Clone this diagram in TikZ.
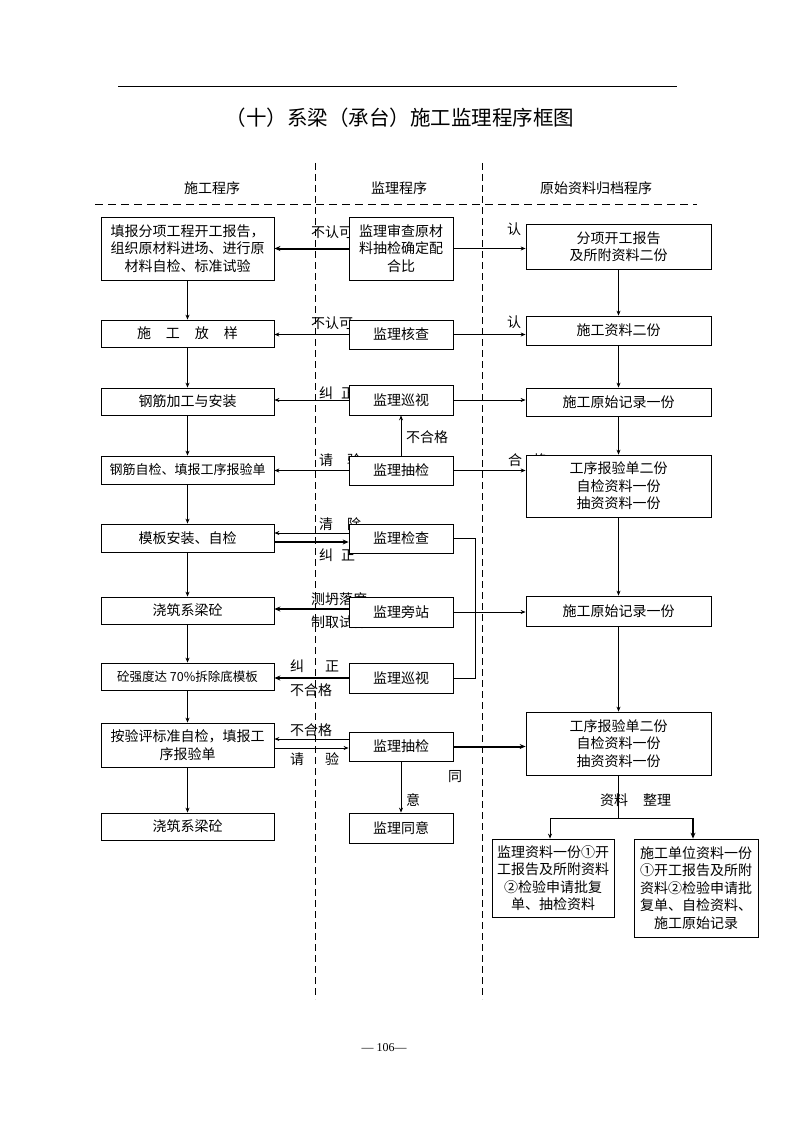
\documentclass[tikz,border=0pt]{standalone}
\usepackage{fontspec}
\setmainfont{Noto Sans CJK SC}
\newfontfamily\serifnum{Liberation Serif}
\usetikzlibrary{arrows.meta}
\begin{document}
\begin{tikzpicture}[x=1pt,y=-1pt,
  box/.style={draw, line width=0.8pt, fill=white, inner sep=0pt, align=center, font=\fontsize{14}{17.5}\selectfont},
  lbox/.style={box, minimum width=173pt},
  mbox/.style={box, minimum width=104pt},
  rbox/.style={box, minimum width=185pt},
  lbl/.style={inner sep=0pt, anchor=west, font=\fontsize{14}{17}\selectfont},
  hdr/.style={inner sep=0pt, font=\fontsize{14}{17}\selectfont},
  arr/.style={-{Stealth[length=5pt,width=4pt]}, line width=0.8pt},
  tarr/.style={-{Stealth[length=6pt,width=5pt]}, line width=2pt},
  plain/.style={line width=0.8pt},
  vdash/.style={dash pattern=on 7pt off 4pt, line width=0.8pt},
  hdash/.style={dash pattern=on 8pt off 5pt, line width=0.8pt},
]
\fill[white] (0,0) rectangle (794,1123);
\useasboundingbox (0,0) rectangle (794,1123);

% title and rules
\draw[line width=0.9pt] (118,86) -- (677,86);
\node[inner sep=0pt, font=\fontsize{20.5}{22}\selectfont] (title) at (400,118) {（十）系梁（承台）施工监理程序框图};
\draw[vdash] (315,163) -- (315,999);
\draw[vdash] (482,163) -- (482,999);
\draw[hdash] (95,204) -- (697,204);
\node[hdr] (h1) at (212,188) {施工程序};
\node[hdr] (h2) at (399,188) {监理程序};
\node[hdr] (h3) at (596,188) {原始资料归档程序};

% labels (drawn before boxes so boxes cover them as in the original)
\node[lbl] (l1a) at (311,232) {不认可};
\node[lbl] (l1b) at (507,229) {认};
\node[lbl] (l2a) at (311,323) {不认可};
\node[lbl] (l2b) at (507,322) {认};
\node[lbl] (l3a) at (319,393) {纠\hspace{8pt}正};
\node[lbl] (l4a) at (319,460) {请\hspace{14pt}验};
\node[lbl] (l4b) at (508,460) {合\hspace{11pt}格};
\node[lbl] (l4c) at (406,437) {不合格};
\node[lbl] (l5a) at (319,524) {清\hspace{14pt}除};
\node[lbl] (l5b) at (319,555) {纠\hspace{8pt}正};
\node[lbl] (l6a) at (311,599) {测坍落度};
\node[lbl] (l6b) at (311,622) {制取试件};
\node[lbl] (l7a) at (290,666) {纠\hspace{21pt}正};
\node[lbl] (l7b) at (290,690) {不合格};
\node[lbl] (l8a) at (290,730.5) {不合格};
\node[lbl] (l8b) at (290,759) {请\hspace{21pt}验};
\node[lbl] (l8c) at (448,777) {同};
\node[lbl] (l8d) at (406,800) {意};
\node[lbl] (l9) at (600,800) {资料\hspace{15pt}整理};

% left column
\node[lbox, minimum height=63pt] (L1) at (187.5,248.5) {填报分项工程开工报告，\\组织原材料进场、进行原\\材料自检、标准试验};
\node[lbox, minimum height=27pt] (L2) at (187.5,333.5) {施\hspace{15pt}工\hspace{15pt}放\hspace{15pt}样};
\node[lbox, minimum height=27pt] (L3) at (187.5,401.5) {钢筋加工与安装};
\node[lbox, minimum height=28pt, font=\fontsize{13}{16}\selectfont] (L4) at (187.5,470) {钢筋自检、填报工序报验单};
\node[lbox, minimum height=28pt] (L5) at (187.5,538) {模板安装、自检};
\node[lbox, minimum height=27pt] (L6) at (187.5,610.5) {浇筑系梁砼};
\node[lbox, minimum height=27pt, font=\fontsize{12.5}{15}\selectfont] (L7) at (187.5,676.5) {砼强度达 70\%拆除底模板};
\node[lbox, minimum height=44pt] (L8) at (187.5,745) {按验评标准自检，填报工\\序报验单};
\node[lbox, minimum height=27pt] (L9) at (187.5,826.5) {浇筑系梁砼};

% middle column
\node[mbox, minimum height=63pt] (M1) at (401,248.5) {监理审查原材\\料抽检确定配\\合比};
\node[mbox, minimum height=29pt] (M2) at (401,334.5) {监理核查};
\node[mbox, minimum height=30pt] (M3) at (401,400) {监理巡视};
\node[mbox, minimum height=29pt] (M4) at (401,470.5) {监理抽检};
\node[mbox, minimum height=29pt] (M5) at (401,538.5) {监理检查};
\node[mbox, minimum height=30pt] (M6) at (401,612) {监理旁站};
\node[mbox, minimum height=30pt] (M7) at (401,678) {监理巡视};
\node[mbox, minimum height=29pt] (M8) at (401,746.5) {监理抽检};
\node[mbox, minimum height=30pt] (M9) at (401,828) {监理同意};

% right column
\node[rbox, minimum height=45pt] (R1) at (618.5,246.5) {分项开工报告\\及所附资料二份};
\node[rbox, minimum height=29pt] (R2) at (618.5,330.5) {施工资料二份};
\node[rbox, minimum height=28pt] (R3) at (618.5,402) {施工原始记录一份};
\node[rbox, minimum height=62pt] (R4) at (618.5,486) {工序报验单二份\\自检资料一份\\抽资资料一份};
\node[rbox, minimum height=30pt] (R5) at (618.5,611) {施工原始记录一份};
\node[rbox, minimum height=63pt] (R6) at (618.5,743.5) {工序报验单二份\\自检资料一份\\抽资资料一份};

% bottom boxes
\node[box, minimum width=122pt, minimum height=78pt] (B1) at (553,878) {监理资料一份①开\\工报告及所附资料\\②检验申请批复\\单、抽检资料};
\node[box, minimum width=124pt, minimum height=98pt] (B2) at (696,888) {施工单位资料一份\\①开工报告及所附\\资料②检验申请批\\复单、自检资料、\\施工原始记录};

% left column flow
\foreach \i/\j in {1/2,2/3,3/4,4/5,5/6,6/7,7/8,8/9}
  \draw[arr] (L\i.south) -- (L\j.north);
% right column flow
\foreach \i/\j in {1/2,2/3,3/4,4/5,5/6}
  \draw[arr] (R\i.south) -- (R\j.north);

% row connectors
\draw[tarr] (M1.west) -- (M1.west -| L1.east);
\draw[arr] (M1.east) -- (M1.east -| R1.west);
\draw[arr] (M2.west) -- (M2.west -| L2.east);
\draw[arr] (M2.east) -- (M2.east -| R2.west);
\draw[arr] (M3.west) -- (M3.west -| L3.east);
\draw[arr] (M3.east) -- (M3.east -| R3.west);
\draw[arr] (M4.west) -- (M4.west -| L4.east);
\draw[arr] (M4.east) -- (M4.east -| R4.west);
\draw[arr] (M4.north) -- (M3.south);

\coordinate (a5) at ([yshift=5.5pt]M5.west);
\coordinate (b5) at ([yshift=-3.5pt]M5.west);
\draw[arr] (a5) -- (a5 -| L5.east);
\draw[tarr] (b5 -| L5.east) -- (b5);
\draw[plain] (M5.east) -- ++(22,0) |- (M7.east);

\coordinate (a6) at ([yshift=3pt]M6.west);
\draw[tarr] (a6) -- (a6 -| L6.east);
\draw[arr] (M6.east) -- (M6.east -| R5.west);

\draw[tarr] (M7.west) -- (M7.west -| L7.east);

\coordinate (a8) at ([yshift=7.5pt]M8.west);
\coordinate (b8) at ([yshift=-1.5pt]M8.west);
\draw[arr] (a8) -- (a8 -| L8.east);
\draw[arr] (b8 -| L8.east) -- (b8);
\draw[tarr] (M8.east) -- (M8.east -| R6.west);
\draw[arr] (M8.south) -- (M9.north);

% archive split
\coordinate (sp) at ([yshift=-43pt]R6.south);
\coordinate (t1) at ([xshift=-3pt]B1.north);
\coordinate (t2) at ([xshift=-3pt]B2.north);
\draw[plain] (R6.south) -- (sp);
\draw[arr] (sp) -| (t1);
\draw[plain] (sp) -- (sp -| t2);
\draw[-{Stealth[length=6pt,width=5pt]}, line width=1.6pt] (sp -| t2) -- (t2);

% page number
\node[inner sep=0pt, font=\serifnum\fontsize{12}{12}\selectfont] (pg) at (384,1048) {— 106—};
\end{tikzpicture}
\end{document}
